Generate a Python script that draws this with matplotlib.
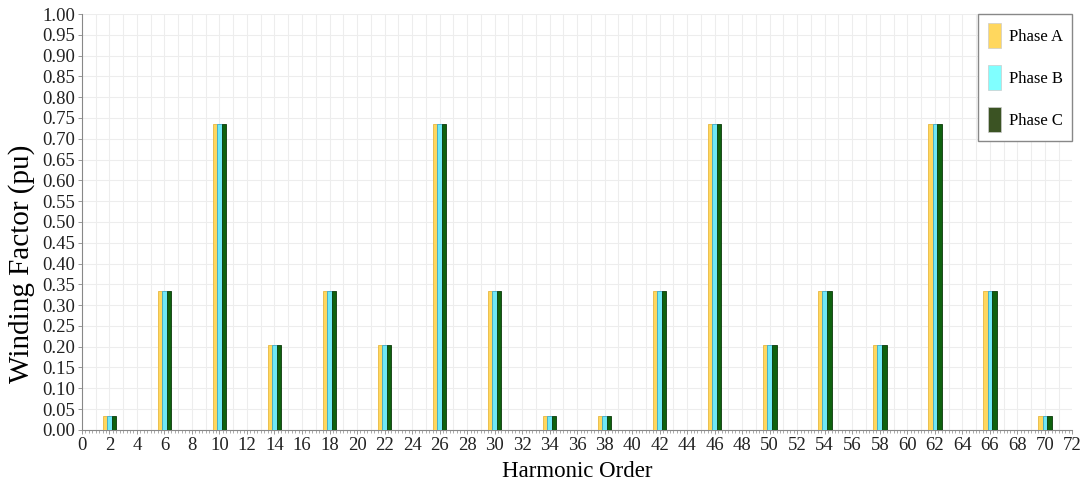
import numpy as np
import matplotlib.pyplot as plt
from matplotlib.patches import Patch
from matplotlib.ticker import MultipleLocator

plt.rcParams['font.family'] = ['Liberation Serif', 'DejaVu Serif']

# Harmonic orders and winding factors per phase
harmonics = [2, 6, 10, 14, 18, 22, 26, 30, 34, 38, 42, 46, 50, 54, 58, 62, 66, 70]
phase_a = [0.033, 0.333, 0.735, 0.205, 0.333, 0.205, 0.735, 0.333, 0.033,
           0.033, 0.333, 0.735, 0.205, 0.333, 0.205, 0.735, 0.333, 0.033]
phase_b = list(phase_a)
phase_c = list(phase_a)

colors = ['#FFD75E', '#6FE8F5', '#0E620E']
edges = ['#E8B840', '#3FA8C8', '#0A3A0A']
legend_colors = ['#FFD75E', '#80FFFF', '#3B5323']
labels = ['Phase A', 'Phase B', 'Phase C']

fig = plt.figure(figsize=(10.92, 4.83), dpi=100)
ax = fig.add_axes([0.075, 0.110, 0.907, 0.861])

x = np.array(harmonics, dtype=float)
w = 0.33
for i, (vals, c, ec) in enumerate(zip([phase_a, phase_b, phase_c], colors, edges)):
    ax.bar(x + (i - 1) * w, vals, width=w, color=c, edgecolor=ec, linewidth=0.6,
           zorder=3)

ax.set_xlim(0, 72)
ax.set_ylim(0, 1.0)
ax.xaxis.set_major_locator(MultipleLocator(2))
ax.xaxis.set_minor_locator(MultipleLocator(0.25))
ax.yaxis.set_major_locator(MultipleLocator(0.05))
ax.set_yticklabels([f'{v:.2f}' for v in ax.get_yticks()])

# light grid: vertical every unit, horizontal every 0.05
for v in range(1, 72):
    ax.axvline(v, color='#EDEDED', linewidth=0.8, zorder=0)
ax.grid(axis='y', color='#EDEDED', linewidth=0.8, zorder=0)
ax.set_axisbelow(True)

for s in ['top', 'right']:
    ax.spines[s].set_visible(False)
for s in ['left', 'bottom']:
    ax.spines[s].set_color('#888888')

ax.tick_params(axis='both', labelsize=13.5, colors='#222222', length=3, width=0.6)
ax.tick_params(axis='x', which='major', length=3, color='#888888', pad=2)
ax.tick_params(axis='x', which='minor', length=2, width=0.5, color='#888888')
ax.tick_params(axis='y', color='#888888', pad=2)

ax.set_xlabel('Harmonic Order', fontsize=16.5, labelpad=5)
ax.set_ylabel('Winding Factor (pu)', fontsize=21)
ax.yaxis.set_label_coords(-0.047, 0.40)

handles = [Patch(facecolor=c, edgecolor='#CCCCCC', linewidth=0.5) for c in legend_colors]
leg = ax.legend(handles, labels, loc='upper right', bbox_to_anchor=(1.0, 1.0),
                borderaxespad=0, fontsize=12, handlelength=0.8, handleheight=1.9,
                labelspacing=1.04, borderpad=0.55, handletextpad=0.5,
                fancybox=False, framealpha=1)
leg.get_frame().set_edgecolor('#888888')
leg.get_frame().set_linewidth(1.0)

fig.savefig('out.png', dpi=100)
